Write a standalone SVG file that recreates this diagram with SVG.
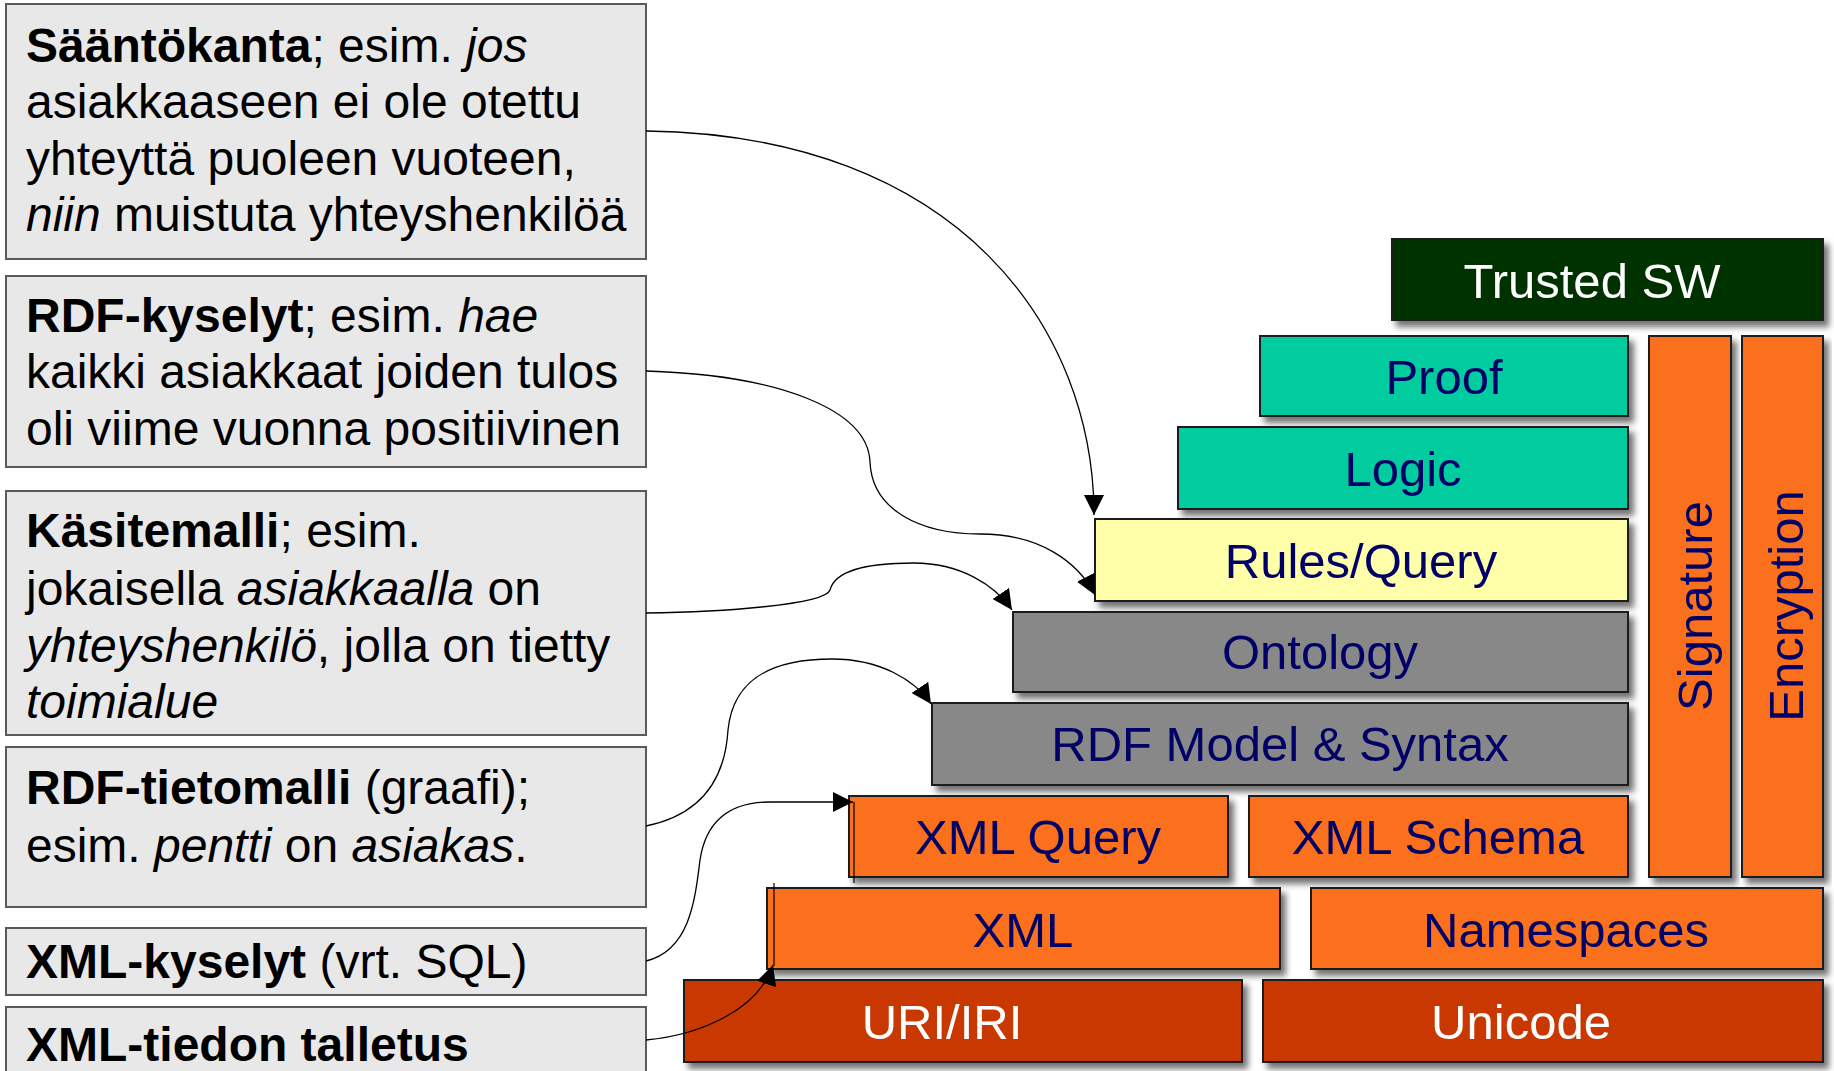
<svg xmlns="http://www.w3.org/2000/svg" width="1834" height="1071" viewBox="0 0 1834 1071">
<defs>
<style>
.note{fill:#e8e8e8;stroke:#5a5a5a;stroke-width:2}
.nt{font-family:"Liberation Sans",Arial,sans-serif;font-size:48px;fill:#000}
.b{font-weight:bold}
.i{font-style:italic}
.layer{stroke:#1a1a1a;stroke-width:2;filter:url(#sh)}
.lt{font-family:"Liberation Sans",Arial,sans-serif;font-size:49px;fill:#000066;text-anchor:middle}
.wt{fill:#ffffff}
.con{fill:none;stroke:#000;stroke-width:1.3;marker-end:url(#ah)}
.thin{fill:none;stroke:#000;stroke-width:1.2}
</style>
<filter id="sh" x="-5%" y="-10%" width="115%" height="135%">
<feDropShadow dx="5" dy="6" stdDeviation="3" flood-color="#000" flood-opacity="0.55"/>
</filter>
<marker id="ah" viewBox="0 0 20 20" refX="20" refY="10" markerWidth="20" markerHeight="20" markerUnits="userSpaceOnUse" orient="auto">
<path d="M0,0 L20,10 L0,20 z" fill="#000"/>
</marker>
</defs>
<rect width="1834" height="1071" fill="#ffffff"/>

<g id="note-saantokanta">
<rect class="note" x="6" y="4" width="640" height="255"/>
<text class="nt" x="26" y="62"><tspan class="b">Sääntökanta</tspan>; esim. <tspan class="i">jos</tspan></text>
<text class="nt" x="26" y="118">asiakkaaseen ei ole otettu</text>
<text class="nt" x="26" y="175">yhteyttä puoleen vuoteen,</text>
<text class="nt" x="26" y="231"><tspan class="i">niin</tspan> muistuta yhteyshenkilöä</text>
</g>
<g id="note-rdf-kyselyt">
<rect class="note" x="6" y="276" width="640" height="191"/>
<text class="nt" x="26" y="332"><tspan class="b">RDF-kyselyt</tspan>; esim. <tspan class="i">hae</tspan></text>
<text class="nt" x="26" y="388">kaikki asiakkaat joiden tulos</text>
<text class="nt" x="26" y="445">oli viime vuonna positiivinen</text>
</g>
<g id="note-kasitemalli">
<rect class="note" x="6" y="491" width="640" height="244"/>
<text class="nt" x="26" y="547"><tspan class="b">Käsitemalli</tspan>; esim.</text>
<text class="nt" x="26" y="605">jokaisella <tspan class="i">asiakkaalla</tspan> on</text>
<text class="nt" x="26" y="662"><tspan class="i">yhteyshenkilö</tspan>, jolla on tietty</text>
<text class="nt" x="26" y="718"><tspan class="i">toimialue</tspan></text>
</g>
<g id="note-rdf-tietomalli">
<rect class="note" x="6" y="747" width="640" height="160"/>
<text class="nt" x="26" y="804"><tspan class="b">RDF-tietomalli</tspan> (graafi);</text>
<text class="nt" x="26" y="862">esim. <tspan class="i">pentti</tspan> on <tspan class="i">asiakas</tspan>.</text>
</g>
<g id="note-xml-kyselyt">
<rect class="note" x="6" y="928" width="640" height="67"/>
<text class="nt" x="26" y="978"><tspan class="b">XML-kyselyt</tspan> (vrt. SQL)</text>
</g>
<g id="note-xml-talletus">
<rect class="note" x="6" y="1007" width="640" height="80"/>
<text class="nt" x="26" y="1061"><tspan class="b">XML-tiedon talletus</tspan></text>
</g>

<g id="layer-trusted">
<rect class="layer" x="1392" y="239" width="431" height="81" fill="#003300"/>
<text class="lt wt" x="1592" y="298">Trusted SW</text>
</g>
<g id="layer-proof">
<rect class="layer" x="1260" y="336" width="368" height="80" fill="#00cca0"/>
<text class="lt" x="1444" y="394">Proof</text>
</g>
<g id="layer-logic">
<rect class="layer" x="1178" y="427" width="450" height="82" fill="#00cca0"/>
<text class="lt" x="1403" y="486">Logic</text>
</g>
<g id="layer-rules">
<rect class="layer" x="1095" y="519" width="533" height="82" fill="#ffffaa"/>
<text class="lt" x="1361" y="578">Rules/Query</text>
</g>
<g id="layer-ontology">
<rect class="layer" x="1013" y="612" width="615" height="80" fill="#888888"/>
<text class="lt" x="1320" y="669">Ontology</text>
</g>
<g id="layer-rdf">
<rect class="layer" x="932" y="703" width="696" height="82" fill="#888888"/>
<text class="lt" x="1280" y="761">RDF Model &amp; Syntax</text>
</g>
<g id="layer-xmlquery">
<rect class="layer" x="849" y="796" width="379" height="81" fill="#fa701a"/>
<text class="lt" x="1038" y="854">XML Query</text>
</g>
<g id="layer-xmlschema">
<rect class="layer" x="1249" y="796" width="379" height="81" fill="#fa701a"/>
<text class="lt" x="1438" y="854">XML Schema</text>
</g>
<g id="layer-xml">
<rect class="layer" x="767" y="888" width="513" height="81" fill="#fa701a"/>
<text class="lt" x="1023" y="947">XML</text>
</g>
<g id="layer-namespaces">
<rect class="layer" x="1311" y="888" width="512" height="81" fill="#fa701a"/>
<text class="lt" x="1566" y="947">Namespaces</text>
</g>
<g id="layer-uri">
<rect class="layer" x="684" y="980" width="558" height="82" fill="#c83700"/>
<text class="lt wt" x="942" y="1039">URI/IRI</text>
</g>
<g id="layer-unicode">
<rect class="layer" x="1263" y="980" width="560" height="82" fill="#c83700"/>
<text class="lt wt" x="1521" y="1039">Unicode</text>
</g>
<g id="layer-signature">
<rect class="layer" x="1649" y="336" width="82" height="541" fill="#fa701a"/>
<text class="lt" transform="translate(1712,606) rotate(-90)">Signature</text>
</g>
<g id="layer-encryption">
<rect class="layer" x="1742" y="336" width="81" height="541" fill="#fa701a"/>
<text class="lt" transform="translate(1803,606) rotate(-90)">Encryption</text>
</g>

<g id="connectors">
<path class="con" d="M646,131 C960,135 1094,330 1094,515"/>
<path class="con" d="M646,371 C780,375 868,410 870,462 C872,510 920,534 980,534 C1040,534 1078,562 1095,595"/>
<path class="con" d="M646,613 C720,612 825,605 830,590 C835,570 870,563 914,563 C960,563 995,585 1012,610"/>
<path class="con" d="M646,826 C700,815 725,780 728,730 C733,680 770,659 832,659 C880,659 915,680 931,704"/>
<path class="con" d="M646,961 C690,950 695,900 700,860 C706,820 730,802 770,802 L853,802"/>
<path class="con" d="M646,1040 C700,1035 758,1010 773,965"/>
<line class="thin" x1="854" y1="802" x2="854" y2="883"/>
<line class="thin" x1="774" y1="883" x2="774" y2="966"/>
</g>
</svg>
